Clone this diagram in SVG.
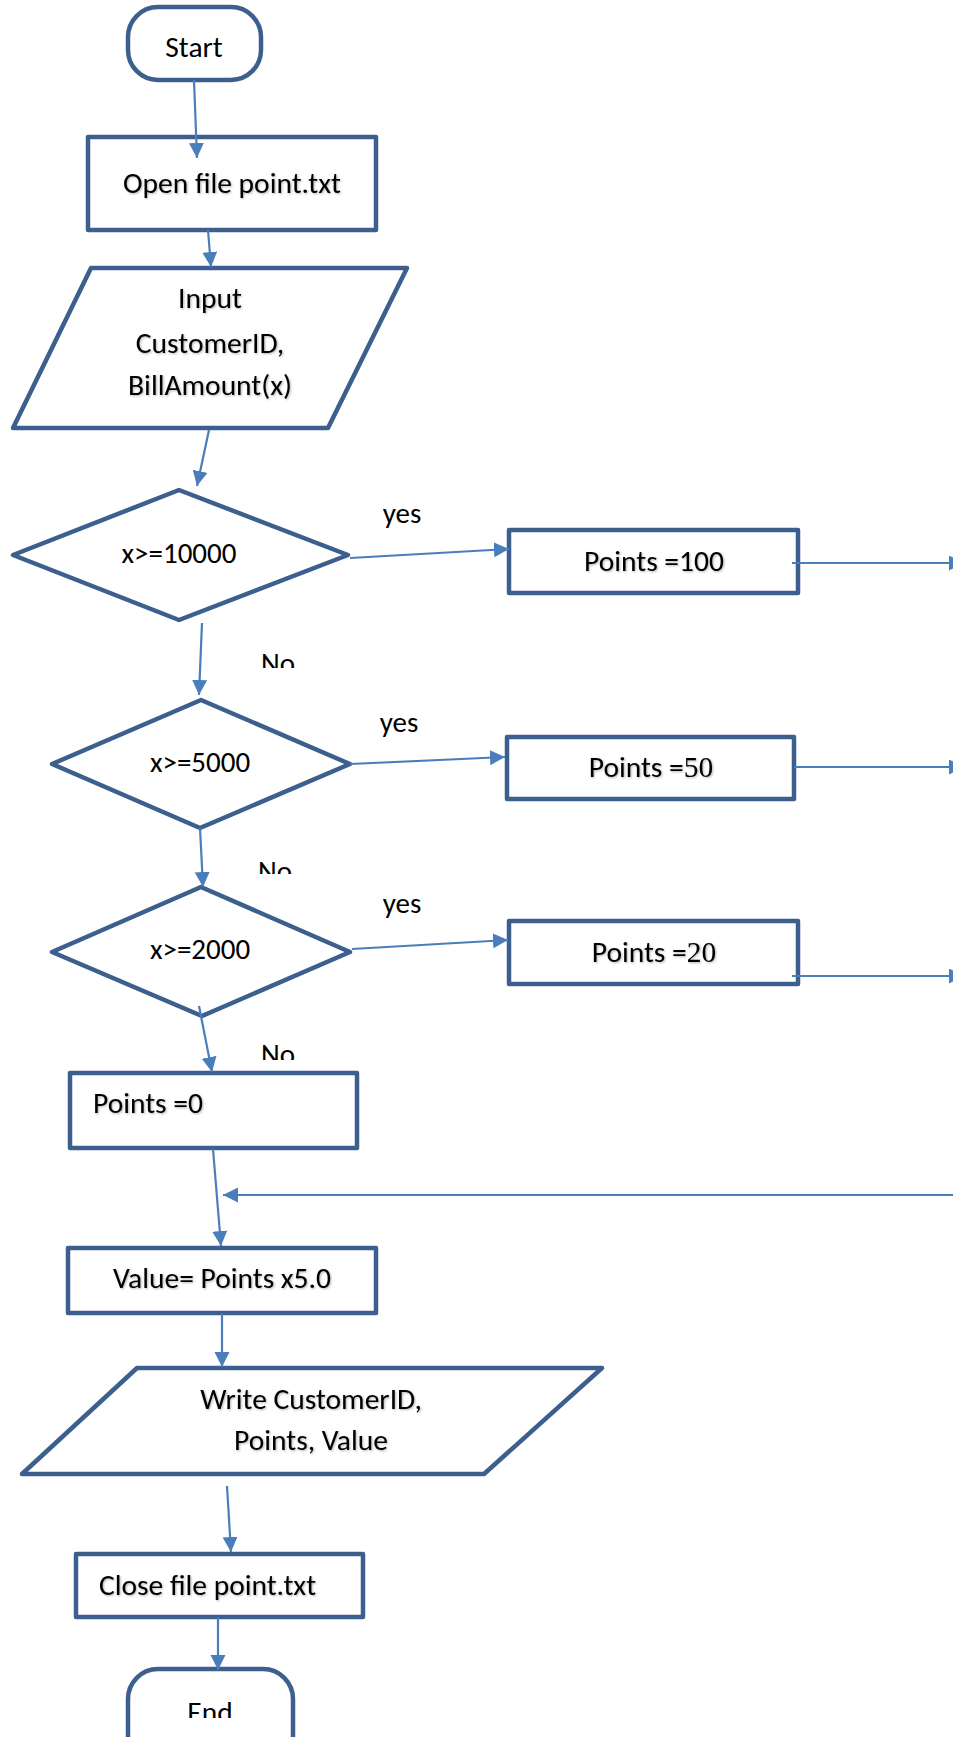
<svg xmlns="http://www.w3.org/2000/svg" width="953" height="1737" viewBox="0 0 953 1737">
  <style>
    .node { fill: #ffffff; stroke: #3C5F8E; stroke-width: 4.5; stroke-linejoin: round; }
    .conn { fill: none; stroke: #4A7EBB; stroke-width: 2.2; marker-end: url(#arrow); }
    .t { font-family: Carlito, Lato, "Liberation Sans", sans-serif; font-size: 29.5px; fill: #000000; }
    .sh { filter: url(#shadow); }
    .c { text-anchor: middle; }
    .d { font-size: 29px; }
    .serif { font-family: "Liberation Serif", serif; }
  </style>
  <defs>
    <marker id="arrow" markerUnits="userSpaceOnUse" markerWidth="16" markerHeight="16" refX="15" refY="7.5" orient="auto">
      <path d="M0,0 L15,7.5 L0,15 z" fill="#4A7EBB"/>
    </marker>
    <filter id="shadow" x="-5%" y="-20%" width="110%" height="140%">
      <feDropShadow dx="1" dy="1" stdDeviation="0.8" flood-color="#000000" flood-opacity="0.3"/>
    </filter>
    <clipPath id="clipNo1"><rect x="250" y="640" width="70" height="28"/></clipPath>
    <clipPath id="clipNo2"><rect x="250" y="848" width="70" height="26"/></clipPath>
    <clipPath id="clipNo3"><rect x="250" y="1030" width="70" height="30"/></clipPath>
    <clipPath id="clipEnd"><rect x="150" y="1690" width="120" height="28"/></clipPath>
  </defs>

  <g id="start">
    <rect class="node" x="128" y="7" width="133" height="73" rx="30" ry="30"/>
    <text class="t c" x="194" y="57" font-size="26.5">Start</text>
  </g>

  <g id="open-file">
    <rect class="node" x="88" y="137" width="288" height="93"/>
    <text class="t c sh" x="232" y="193">Open file point.txt</text>
  </g>

  <g id="input">
    <polygon class="node" points="91,268 407,268 328,428 13,428"/>
    <text class="t c sh" x="210" y="308">Input</text>
    <text class="t c sh" x="210" y="353">CustomerID,</text>
    <text class="t c sh" x="210" y="395">BillAmount(x)</text>
  </g>

  <g id="decision-10000">
    <polygon class="node" points="13,555 179,490 348,555 179,620"/>
    <text class="t d c" x="179" y="563">x&gt;=10000</text>
  </g>

  <g id="decision-5000">
    <polygon class="node" points="52,764 201,700 350,764 200,828"/>
    <text class="t d c" x="200" y="772">x&gt;=5000</text>
  </g>

  <g id="decision-2000">
    <polygon class="node" points="52,952 201,887 350,952 202,1016"/>
    <text class="t d c" x="200" y="959">x&gt;=2000</text>
  </g>

  <g id="labels">
    <text class="t d c" x="402" y="523">yes</text>
    <text class="t d c" x="399" y="732">yes</text>
    <text class="t d c" x="402" y="913">yes</text>
    <text class="t d" x="261" y="673" clip-path="url(#clipNo1)">No</text>
    <text class="t d" x="258" y="881" clip-path="url(#clipNo2)">No</text>
    <text class="t d" x="261" y="1064" clip-path="url(#clipNo3)">No</text>
  </g>

  <g id="points-100">
    <rect class="node" x="509" y="530" width="289" height="63"/>
    <text class="t c sh" x="654" y="571">Points =100</text>
  </g>

  <g id="points-50">
    <rect class="node" x="507" y="737" width="287" height="62"/>
    <text class="t c sh" x="651" y="777">Points =<tspan class="serif">50</tspan></text>
  </g>

  <g id="points-20">
    <rect class="node" x="509" y="921" width="289" height="63"/>
    <text class="t c sh" x="654" y="962">Points =<tspan class="serif">20</tspan></text>
  </g>

  <g id="points-0">
    <rect class="node" x="70" y="1073" width="287" height="75"/>
    <text class="t sh" x="93" y="1113">Points =0</text>
  </g>

  <g id="value">
    <rect class="node" x="68" y="1248" width="308" height="65"/>
    <text class="t c sh" x="222" y="1288">Value= Points x5.0</text>
  </g>

  <g id="write">
    <polygon class="node" points="137,1368 602,1368 484,1474 22,1474"/>
    <text class="t c sh" x="311" y="1409">Write CustomerID,</text>
    <text class="t c sh" x="311" y="1450">Points, Value</text>
  </g>

  <g id="close-file">
    <rect class="node" x="76" y="1554" width="287" height="63"/>
    <text class="t sh" x="99" y="1595">Close file point.txt</text>
  </g>

  <g id="end">
    <rect class="node" x="128" y="1669" width="165" height="100" rx="30" ry="30"/>
    <text class="t c" x="210" y="1722" font-size="26.5" clip-path="url(#clipEnd)">End</text>
  </g>

  <g id="connectors">
    <line class="conn" x1="194" y1="80" x2="197" y2="158"/>
    <line class="conn" x1="208" y1="230" x2="211" y2="267"/>
    <line class="conn" x1="209" y1="430" x2="197" y2="486"/>
    <line class="conn" x1="350" y1="558" x2="509" y2="549"/>
    <line class="conn" x1="202" y1="623" x2="199" y2="695"/>
    <line class="conn" x1="350" y1="764" x2="505" y2="757"/>
    <line class="conn" x1="200" y1="828" x2="203" y2="887"/>
    <line class="conn" x1="352" y1="949" x2="508" y2="940"/>
    <line class="conn" x1="199" y1="1006" x2="212" y2="1072"/>
    <line class="conn" x1="792" y1="563" x2="964" y2="563"/>
    <line class="conn" x1="794" y1="767" x2="964" y2="767"/>
    <line class="conn" x1="792" y1="976" x2="964" y2="976"/>
    <line class="conn" x1="960" y1="1195" x2="223" y2="1195"/>
    <line class="conn" x1="213" y1="1149" x2="221" y2="1246"/>
    <line class="conn" x1="222" y1="1313" x2="222" y2="1367"/>
    <line class="conn" x1="227" y1="1486" x2="231" y2="1552"/>
    <line class="conn" x1="218" y1="1617" x2="218" y2="1670"/>
  </g>
</svg>
